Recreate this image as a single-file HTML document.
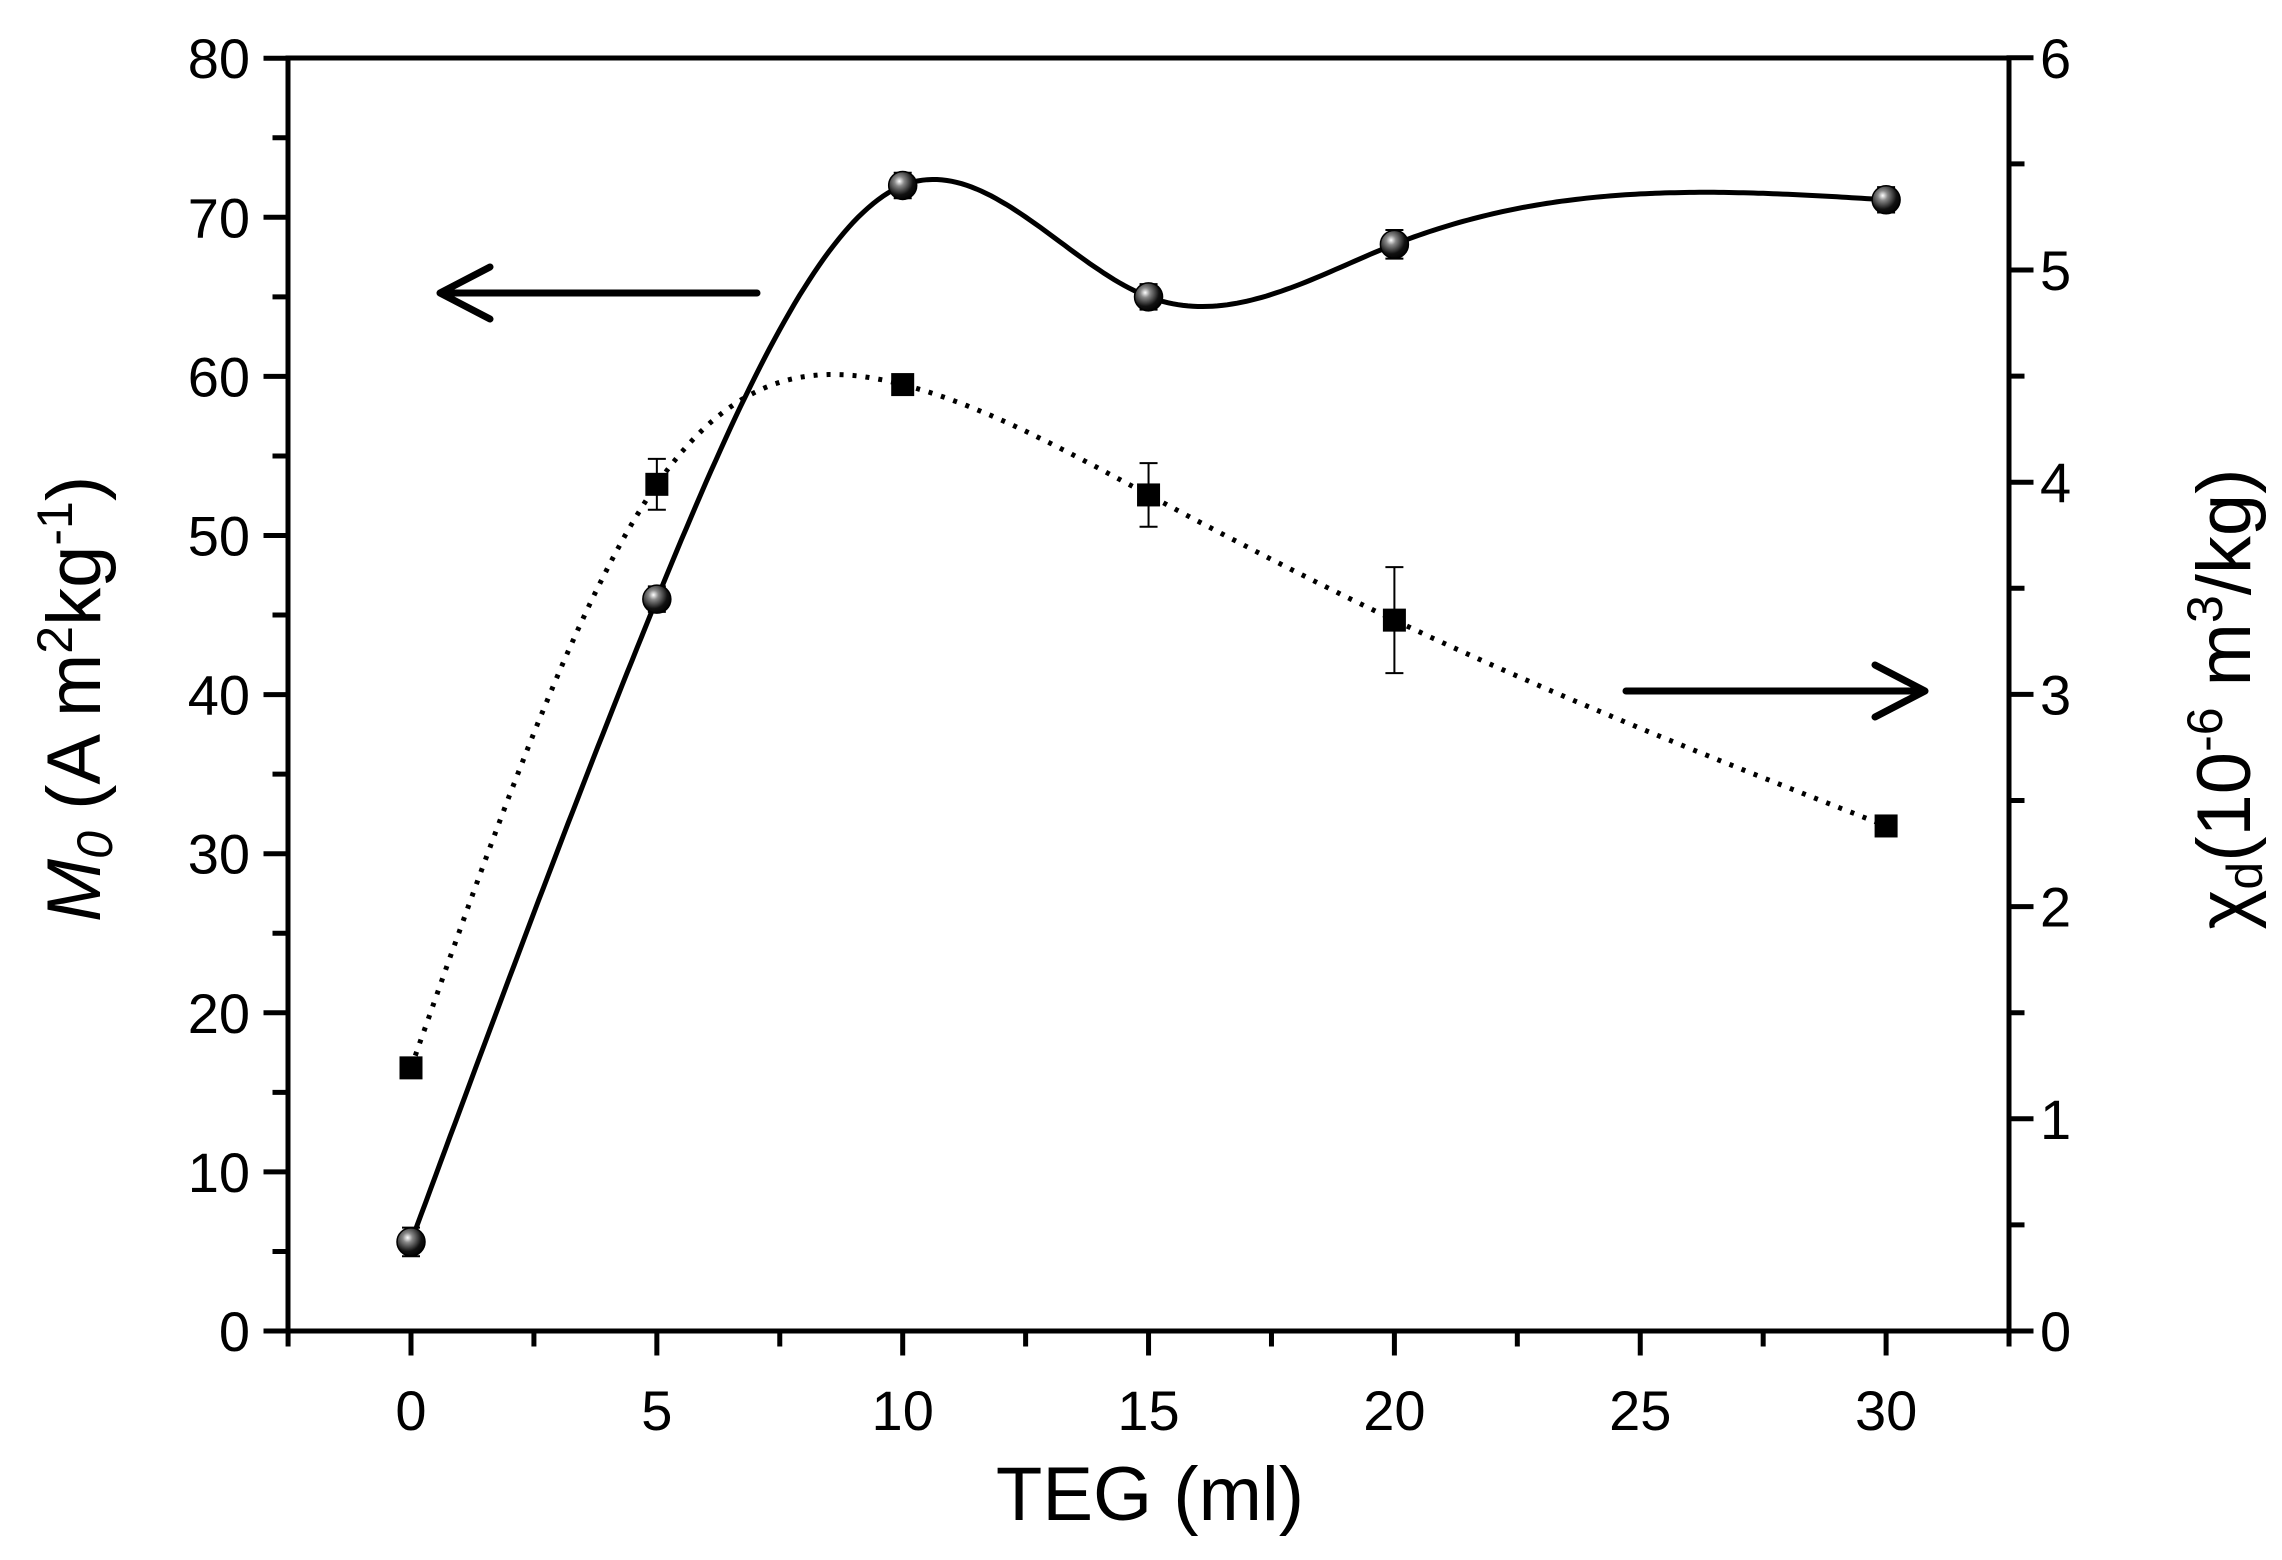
<!DOCTYPE html>
<html><head><style>body{margin:0;background:#fff}svg{display:block}text{font-family:"Liberation Sans",sans-serif;fill:#000}</style></head>
<body>
<svg id="s" width="2282" height="1560" viewBox="0 0 2282 1560" xmlns="http://www.w3.org/2000/svg">
<defs>
<radialGradient id="g" cx="0.38" cy="0.35" r="0.7">
<stop offset="0" stop-color="#fff"/><stop offset="0.25" stop-color="#888"/><stop offset="0.7" stop-color="#111"/><stop offset="1" stop-color="#000"/>
</radialGradient>
</defs>
<g id="ax" stroke="#000" stroke-width="5" fill="none" stroke-linecap="square">
<rect x="288" y="58" width="1721" height="1273"/>
</g>
<g id="c"></g>
<text x="1150" y="1520" font-size="76" text-anchor="middle">TEG (ml)</text>
<text transform="translate(100,699) rotate(-90)" font-size="76" text-anchor="middle"><tspan font-style="italic">M<tspan font-size="50" dy="12">0</tspan></tspan><tspan dy="-12"> (A m</tspan><tspan font-size="50" dy="-28">2</tspan><tspan dy="28">kg</tspan><tspan font-size="50" dy="-28">-1</tspan><tspan dy="28">)</tspan></text>
<text transform="translate(2250,699) rotate(-90)" font-size="76" text-anchor="middle">χ<tspan font-size="50" dy="12">d</tspan><tspan dy="-12">(10</tspan><tspan font-size="50" dy="-28">-6</tspan><tspan dy="28"> m</tspan><tspan font-size="50" dy="-28">3</tspan><tspan dy="28">/kg)</tspan></text>
<g stroke="#000" stroke-width="7" fill="none" stroke-linecap="round" stroke-linejoin="round">
<path d="M757 293 H440 M490 267 L440 293 L490 319"/>
<path d="M1626 691 H1925 M1875 665 L1925 691 L1875 717"/>
</g>
</svg>
<script>
const X=x=>411+49.17*x, YL=v=>1331-15.91*v, YR=v=>1331-212.2*v;
const ns="http://www.w3.org/2000/svg", ax=document.getElementById('ax'), c=document.getElementById('c'), s=document.getElementById('s');
function el(p,t,a,txt){const e=document.createElementNS(ns,t);for(const k in a)e.setAttribute(k,a[k]);if(txt!=null)e.textContent=txt;p.appendChild(e);return e;}
function ln(x1,y1,x2,y2,w){el(ax,'line',{x1,y1,x2,y2,'stroke-width':w||5});}
for(let v=-2.5;v<=32.5;v+=2.5){const maj=Math.abs(v%5)<1e-6;const x=X(v);ln(x,1331,x,1331+(maj?22:13));if(maj&&v>=0&&v<=30)el(s,'text',{x,y:1430,'font-size':56,'text-anchor':'middle'},v);}
for(let v=0;v<=80;v+=5){const maj=v%10==0;const y=YL(v);ln(288,y,288-(maj?22:13),y);if(maj)el(s,'text',{x:250,y:y+20,'font-size':56,'text-anchor':'end'},v);}
for(let v=0;v<=6;v+=0.5){const maj=v%1==0;const y=YR(v);ln(2009,y,2009+(maj?22:13),y);if(maj)el(s,'text',{x:2040,y:y+20,'font-size':56},v);}
function spline(xs,ys){const n=xs.length,h=[],al=[],l=[1],mu=[0],z=[0],cc=new Array(n).fill(0),b=[],d=[];
for(let i=0;i<n-1;i++)h[i]=xs[i+1]-xs[i];
for(let i=1;i<n-1;i++)al[i]=3/h[i]*(ys[i+1]-ys[i])-3/h[i-1]*(ys[i]-ys[i-1]);
for(let i=1;i<n-1;i++){l[i]=2*(xs[i+1]-xs[i-1])-h[i-1]*mu[i-1];mu[i]=h[i]/l[i];z[i]=(al[i]-h[i-1]*z[i-1])/l[i];}
z[n-1]=0;for(let j=n-2;j>=0;j--){cc[j]=z[j]-mu[j]*cc[j+1];b[j]=(ys[j+1]-ys[j])/h[j]-h[j]*(cc[j+1]+2*cc[j])/3;d[j]=(cc[j+1]-cc[j])/(3*h[j]);}
return x=>{let j=0;while(j<n-2&&x>xs[j+1])j++;const t=x-xs[j];return ys[j]+b[j]*t+cc[j]*t*t+d[j]*t*t*t;};}
const xs=[0,5,10,15,20,30];
const m=[5.6,46,72,65,68.3,71.1], me=[0.9,0.8,0.8,0.8,0.9,0.8];
const k=[1.24,3.99,4.46,3.94,3.35,2.38], ke=[0.03,0.12,0.03,0.15,0.25,0.03];
function path(f,Y){let d='';for(let x=0;x<=30.001;x+=0.1)d+=(d?'L':'M')+X(x).toFixed(1)+' '+Y(f(x)).toFixed(1);return d;}
el(c,'path',{d:path(spline(xs,m),YL),stroke:'#000','stroke-width':5,fill:'none'});
el(c,'path',{d:path(spline(xs,k),YR),stroke:'#000','stroke-width':5,fill:'none','stroke-dasharray':'4 9'});
xs.forEach((x,i)=>{const px=X(x);
[[YL(m[i]-me[i]),YL(m[i]+me[i])],[YR(k[i]-ke[i]),YR(k[i]+ke[i])]].forEach(([a,b])=>{el(c,'line',{x1:px,y1:a,x2:px,y2:b,stroke:'#000','stroke-width':2});el(c,'line',{x1:px-9,y1:a,x2:px+9,y2:a,stroke:'#000','stroke-width':2});el(c,'line',{x1:px-9,y1:b,x2:px+9,y2:b,stroke:'#000','stroke-width':2});});
el(c,'rect',{x:px-11.5,y:YR(k[i])-11.5,width:23,height:23,fill:'#000'});
el(c,'circle',{cx:px,cy:YL(m[i]),r:14,fill:'url(#g)',stroke:'#000','stroke-width':1.5});
});
</script>
</body></html>
